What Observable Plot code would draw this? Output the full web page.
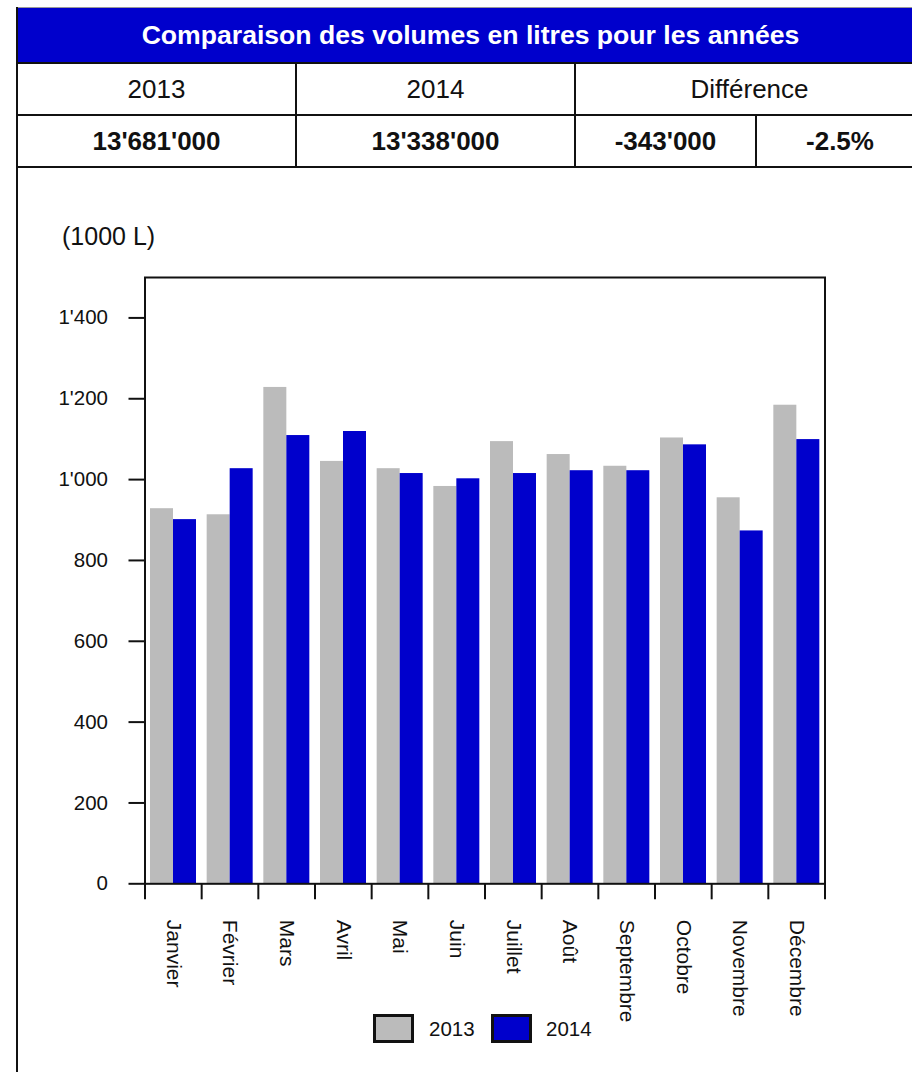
<!DOCTYPE html>
<html>
<head>
<meta charset="utf-8">
<script src="https://cdn.jsdelivr.net/npm/d3@7"></script>
<script src="https://cdn.jsdelivr.net/npm/@observablehq/plot@0.6"></script>
<style>
  html, body { margin: 0; padding: 0; background: #fff; }
  body { width: 912px; height: 1072px; position: relative; overflow: hidden; font-family: "Liberation Sans", Arial, sans-serif; color: #111; }
  .abs { position: absolute; }
  .cell { position: absolute; text-align: center; font-size: 26px; white-space: nowrap; }
  .line { position: absolute; background: #111; }
</style>
</head>
<body>
<div id="page"></div>
<script>
// ---- data ----
const titleText = "Comparaison des volumes en litres pour les années";
const headerLabels = ["2013", "2014", "Différence"];
const totals = ["13'681'000", "13'338'000", "-343'000", "-2.5%"];
const months = ["Janvier","Février","Mars","Avril","Mai","Juin","Juillet","Août","Septembre","Octobre","Novembre","Décembre"];
const v2013 = [928, 913, 1228, 1045, 1027, 983, 1094, 1062, 1033, 1103, 955, 1184];
const v2014 = [901, 1027, 1109, 1119, 1015, 1002, 1015, 1022, 1022, 1086, 873, 1099];
const yTicks = [0, 200, 400, 600, 800, 1000, 1200, 1400];
const years = ["2013", "2014"];
const colors = ["#BBBBBB", "#0000CC"];

function add(cls, css, text) {
  const d = document.createElement("div");
  d.className = cls;
  Object.assign(d.style, css);
  if (text != null) d.textContent = text;
  document.body.appendChild(d);
  return d;
}

// ---- header table ----
add("line", {left: "16px", top: "7px", width: "910px", height: "1px", background: "#999"});
add("cell", {left: "18px", top: "8px", width: "905px", height: "54px", lineHeight: "54px", background: "#0000CC", color: "#fff", fontWeight: "bold", fontSize: "26.6px"}, titleText);
add("line", {left: "16px", top: "62px", width: "910px", height: "2px"});
add("line", {left: "16px", top: "114px", width: "910px", height: "2px"});
add("line", {left: "16px", top: "166px", width: "910px", height: "2px"});
add("line", {left: "16px", top: "7px", width: "2px", height: "1065px"});
add("line", {left: "295px", top: "62px", width: "2px", height: "106px"});
add("line", {left: "574px", top: "62px", width: "2px", height: "106px"});
add("line", {left: "755px", top: "114px", width: "2px", height: "54px"});
const hdrCells = [[18, 277], [297, 277], [576, 347]];
headerLabels.forEach((t, i) => add("cell", {left: hdrCells[i][0] + "px", top: "64px", width: hdrCells[i][1] + "px", height: "50px", lineHeight: "50px"}, t));
const totCells = [[18, 277], [297, 277], [576, 179], [757, 166]];
totals.forEach((t, i) => add("cell", {left: totCells[i][0] + "px", top: "116px", width: totCells[i][1] + "px", height: "50px", lineHeight: "50px", fontWeight: "bold"}, t));

// ---- unit label ----
add("abs", {left: "62px", top: "224px", fontSize: "25px", lineHeight: "24px", whiteSpace: "nowrap"}, "(1000 L)");

// ---- chart ----
const rows = years.flatMap((y, k) => months.map((m, i) => ({i, m, year: y, v: (k === 0 ? v2013 : v2014)[i]})));
const bw = 680 / 12;
const fmt = d => d3.format(",")(d).replace(/,/g, "'");

const chart = Plot.plot({
  width: 892,
  height: 902,
  marginLeft: 124.5,
  marginRight: 87.5,
  marginTop: 107,
  marginBottom: 188.7,
  style: {background: "transparent", fontFamily: "'Liberation Sans', Arial, sans-serif", color: "#111"},
  x: {domain: [0, 12], axis: null},
  y: {domain: [0, 1500], axis: null},
  marks: [
    Plot.rectY(rows.filter(d => d.year === "2013"), {x1: "i", x2: d => d.i + 1, y: "v", fill: colors[0], insetLeft: 5.5, insetRight: bw - 28.5}),
    Plot.rectY(rows.filter(d => d.year === "2014"), {x1: "i", x2: d => d.i + 1, y: "v", fill: colors[1], insetLeft: 28.5, insetRight: bw - 51.5}),
    Plot.axisY({ticks: yTicks, tickSize: 16, tickPadding: 21, tickFormat: fmt, fontSize: 20.5, strokeWidth: 2, label: null}),
    Plot.axisX({ticks: d3.range(13), tickSize: 16, tickFormat: () => "", strokeWidth: 2, label: null}),
    Plot.text(months, {x: (d, i) => i + 0.5, y: 0, text: d => d, rotate: 90, textAnchor: "start", dy: 36, fontSize: 21}),
    Plot.frame({stroke: "#111", strokeWidth: 2})
  ]
});
const holder = add("abs", {left: "20px", top: "170px"});
holder.appendChild(chart);

// ---- legend ----
const legendPos = [[373, 429], [491, 546]];
years.forEach((y, k) => {
  add("abs", {left: legendPos[k][0] + "px", top: "1014px", width: "35px", height: "23px", background: colors[k], border: "3px solid #111"});
  add("abs", {left: legendPos[k][1] + "px", top: "1018px", fontSize: "20.5px", lineHeight: "22px", whiteSpace: "nowrap"}, y);
});
</script>
</body>
</html>
